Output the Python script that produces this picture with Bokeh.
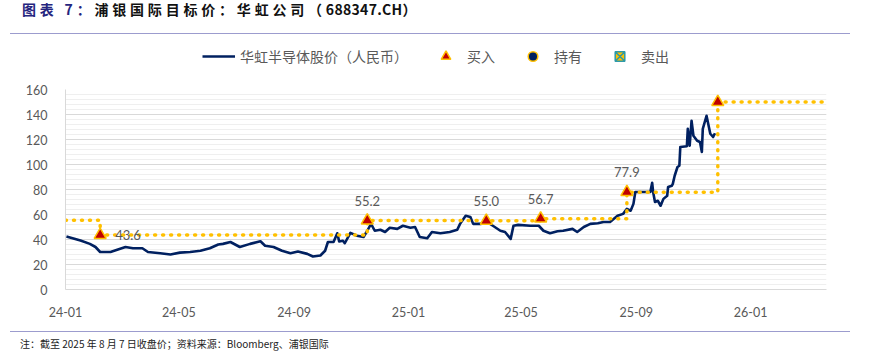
import pandas as pd
from bokeh.plotting import figure
from bokeh.models import (ColumnDataSource, Range1d, FixedTicker, SingleIntervalTicker,
                          DatetimeTickFormatter, Legend, LegendItem, Div)
from bokeh.layouts import column
from bokeh.embed import file_html
from bokeh.resources import INLINE
from bokeh.core.properties import value

# ---------------- data ----------------
title_prefix = "图表 7："
title_main = "浦银国际目标价：华虹公司（"
title_code = "688347.CH"
title_end = "）"
footnote = "注：截至 2025 年 8 月 7 日收盘价；资料来源：Bloomberg、浦银国际"
series_name = "华虹半导体股价（人民币）"
buy_name, hold_name, sell_name = "买入", "持有", "卖出"

price_dates = [
    "2024-01-02", "2024-01-17", "2024-01-27", "2024-02-02", "2024-02-07", "2024-02-18",
    "2024-02-26", "2024-03-05", "2024-03-13", "2024-03-23", "2024-03-29", "2024-04-11",
    "2024-04-22", "2024-05-02", "2024-05-13", "2024-05-24", "2024-06-03", "2024-06-12",
    "2024-06-17", "2024-06-25", "2024-07-05", "2024-07-16", "2024-07-27", "2024-08-01",
    "2024-08-10", "2024-08-19", "2024-08-28", "2024-09-05", "2024-09-15", "2024-09-21",
    "2024-09-29", "2024-10-04", "2024-10-07", "2024-10-13", "2024-10-17", "2024-10-19",
    "2024-10-23", "2024-10-25", "2024-10-31", "2024-11-07", "2024-11-14", "2024-11-18",
    "2024-11-22", "2024-11-26", "2024-12-02", "2024-12-07", "2024-12-12", "2024-12-20",
    "2024-12-26", "2025-01-03", "2025-01-08", "2025-01-13", "2025-01-21", "2025-01-26",
    "2025-02-04", "2025-02-14", "2025-02-22", "2025-02-25", "2025-03-03", "2025-03-08",
    "2025-03-11", "2025-03-19", "2025-03-26", "2025-04-01", "2025-04-09", "2025-04-14",
    "2025-04-20", "2025-04-23", "2025-04-28", "2025-05-11", "2025-05-20", "2025-05-25",
    "2025-06-01", "2025-06-09", "2025-06-15", "2025-06-25", "2025-06-30", "2025-07-07",
    "2025-07-14", "2025-07-22", "2025-07-28", "2025-08-04", "2025-08-12", "2025-08-18",
    "2025-08-22", "2025-08-26", "2025-08-29", "2025-08-31", "2025-09-09", "2025-09-16",
    "2025-09-18", "2025-09-19", "2025-09-21", "2025-09-24", "2025-09-27", "2025-09-30",
    "2025-10-04", "2025-10-05", "2025-10-09", "2025-10-10", "2025-10-12", "2025-10-15",
    "2025-10-17", "2025-10-18", "2025-10-25", "2025-10-26", "2025-10-28", "2025-10-30",
    "2025-11-01", "2025-11-05", "2025-11-08", "2025-11-10", "2025-11-11", "2025-11-15",
    "2025-11-19", "2025-11-22", "2025-11-24",
]
price_values = [
    42.4, 39.2, 36.5, 34.0, 30.0, 30.0,
    32.0, 34.0, 33.0, 33.0, 30.0, 29.0,
    28.0, 29.5, 30.0, 31.0, 33.0, 36.0,
    36.5, 38.0, 34.0, 36.5, 38.6, 35.0,
    34.0, 31.0, 29.0, 30.4, 28.5, 26.4,
    27.2, 31.0, 38.0, 38.0, 45.0, 38.4,
    39.0, 37.0, 45.3, 43.0, 42.0, 47.0,
    52.5, 47.0, 47.8, 46.0, 49.4, 48.5,
    51.0, 49.4, 50.0, 42.0, 41.0, 46.0,
    45.0, 46.0, 47.8, 52.5, 59.0, 58.0,
    52.5, 52.5, 53.8, 51.0, 47.0, 46.0,
    40.5, 51.0, 51.7, 51.0, 51.0, 47.0,
    45.0, 46.6, 47.0, 48.5, 46.0, 50.0,
    52.5, 53.0, 54.0, 54.0, 59.0, 60.5,
    64.5, 63.0, 68.5, 78.0, 78.0, 78.0,
    85.3, 78.0, 70.0, 71.0, 67.0, 72.5,
    75.0, 82.0, 83.0, 84.5, 91.0, 98.0,
    99.0, 114.0, 114.6, 128.5, 115.0, 135.0,
    123.0, 119.0, 118.0, 110.0, 128.5, 139.0,
    124.6, 122.0, 125.0,
]

prior_target = 55.5
target_dates = ["2024-02-07", "2024-11-18", "2025-03-25", "2025-05-22", "2025-08-22", "2025-11-27"]
target_values = [43.6, 55.2, 55.0, 56.7, 77.9, 150.0]
hold_dates, hold_values = [], []
sell_dates, sell_values = [], []

axis_start = "2024-01-01"
axis_end = "2026-03-23"
x_tick_dates = ["2024-01-01", "2024-05-01", "2024-09-01", "2025-01-01",
                "2025-05-01", "2025-09-01", "2026-01-01"]
y_min, y_max, y_step = 0, 160, 20

# ---------------- styles ----------------
NAVY = "#002060"
GOLD = "#FFC000"
RED = "#C00000"
GREY = "#595959"
TEAL = "#2E9AA8"
RULE = "#9C9CCE"
NUM_FONT = "Lato"
CJK_FONT = "Noto Sans CJK SC"
W = 860

LINE_STYLE = dict(line_color=NAVY, line_width=2.6)
BUY_STYLE = dict(marker="triangle", fill_color=RED, line_color=GOLD, line_width=1.5)
HOLD_STYLE = dict(marker="circle", fill_color=NAVY, line_color=GOLD, line_width=1.5)
SELL_STYLE = dict(marker="square_x", fill_color=GOLD, line_color=TEAL, line_width=1.5)

# ---------------- main figure ----------------
p = figure(width=W, height=257, x_axis_type="datetime",
           x_range=Range1d(pd.Timestamp(axis_start), pd.Timestamp(axis_end)),
           y_range=Range1d(y_min, y_max),
           output_backend="svg", toolbar_location=None,
           min_border_left=65, min_border_right=W - 65 - 761,
           min_border_top=21, min_border_bottom=36)
p.outline_line_color = None
p.background_fill_color = "white"
p.border_fill_color = "white"

yt = SingleIntervalTicker(interval=y_step, num_minor_ticks=5)
p.yaxis.ticker = yt
p.ygrid.ticker = yt
p.ygrid.grid_line_color = "#D9D9D9"
p.ygrid.minor_grid_line_color = "#EFEFEF"
p.xgrid.grid_line_color = None

p.xaxis.ticker = FixedTicker(ticks=list(pd.to_datetime(x_tick_dates).astype("int64") // 10**6))
fmt = "%y-%m"
p.xaxis.formatter = DatetimeTickFormatter(microseconds=fmt, milliseconds=fmt, seconds=fmt,
                                          minsec=fmt, minutes=fmt, hourmin=fmt, hours=fmt,
                                          days=fmt, months=fmt, years=fmt)
for ax in (p.xaxis, p.yaxis):
    ax.axis_line_color = "#D9D9D9"
    ax.major_tick_line_color = None
    ax.minor_tick_line_color = None
    ax.major_label_text_color = GREY
    ax.major_label_text_font = NUM_FONT
    ax.major_label_text_font_size = "12.5px"
p.xaxis.major_label_standoff = 11
p.yaxis.major_label_standoff = 12

price_src = ColumnDataSource(data=dict(x=pd.to_datetime(price_dates), y=price_values))
p.line("x", "y", source=price_src, line_join="round", **LINE_STYLE)

step_x = pd.to_datetime([axis_start] + target_dates + [axis_end])
step_y = [prior_target] + target_values + [target_values[-1]]
p.step(x=step_x, y=step_y, mode="after", line_color=GOLD, line_width=3.5,
       line_dash="1 7", line_cap="round")

n = len(target_values)
tgt_src = ColumnDataSource(data=dict(
    x=pd.to_datetime(target_dates), y=target_values,
    label=[f"{v:.1f}" for v in target_values],
    dx=[15] + [0] * (n - 1), dy=[0] + [-20] * (n - 1),
    align=["left"] + ["center"] * (n - 1)))
p.scatter("x", "y", source=tgt_src, size=12, **BUY_STYLE)
p.text("x", "y", text="label", source=tgt_src, x_offset="dx", y_offset="dy",
       text_align="align", text_baseline="middle", text_color=GREY,
       text_font=value(NUM_FONT), text_font_size="13px")

hold_src = ColumnDataSource(data=dict(x=pd.to_datetime(hold_dates), y=hold_values))
p.scatter("x", "y", source=hold_src, size=10, **HOLD_STYLE)
sell_src = ColumnDataSource(data=dict(x=pd.to_datetime(sell_dates), y=sell_values))
p.scatter("x", "y", source=sell_src, size=10, **SELL_STYLE)

# ---------------- legend strip ----------------
lg = figure(width=W, height=34, x_range=Range1d(0, 1), y_range=Range1d(0, 1),
            x_axis_location=None, y_axis_location=None,
            output_backend="svg", toolbar_location=None,
            min_border_left=65, min_border_right=W - 65 - 761,
            min_border_top=0, min_border_bottom=0)
lg.outline_line_color = None
lg.grid.grid_line_color = None
swatch = ColumnDataSource(data=dict(x=[float("nan")], y=[float("nan")]))  # legend swatches only
l_line = lg.line("x", "y", source=swatch, **LINE_STYLE)
l_buy = lg.scatter("x", "y", source=swatch, **BUY_STYLE)
l_hold = lg.scatter("x", "y", source=swatch, **HOLD_STYLE)
l_sell = lg.scatter("x", "y", source=swatch, **SELL_STYLE)
legend = Legend(items=[LegendItem(label=series_name, renderers=[l_line]),
                       LegendItem(label=buy_name, renderers=[l_buy]),
                       LegendItem(label=hold_name, renderers=[l_hold]),
                       LegendItem(label=sell_name, renderers=[l_sell])],
                orientation="horizontal", location=(137, 0),
                padding=0, margin=0, spacing=21, label_standoff=5,
                glyph_width=33, glyph_height=24, label_height=24,
                border_line_color=None, background_fill_alpha=0,
                label_text_font=CJK_FONT, label_text_font_size="14px",
                label_text_color=GREY, label_text_baseline="middle")
lg.add_layout(legend, "center")

# ---------------- title / footnote ----------------
title_html = (
    f'<div style="position:relative;box-sizing:border-box;width:840px;height:34px;'
    f'margin-left:10px;border-bottom:1px solid {RULE};">'
    f'<span style="position:absolute;left:12px;top:2px;white-space:nowrap;'
    f"font-family:'{CJK_FONT}';font-weight:bold;font-size:14px;line-height:14px;"
    f'letter-spacing:3.8px;color:#111111;">'
    f'<span style="color:#25257E">{title_prefix}</span>{title_main}'
    f'<span style="letter-spacing:0.3px">{title_code}</span>{title_end}</span></div>'
)
title_div = Div(text=title_html, width=W, height=34, margin=0)

foot_html = (
    f'<div style="box-sizing:border-box;width:840px;margin-left:10px;margin-top:6px;'
    f'border-top:1px solid {RULE};padding-top:6px;padding-left:10px;'
    f"font-family:'{CJK_FONT}';font-size:10px;line-height:12px;color:#222222;"
    f'white-space:nowrap;">{footnote}</div>'
)
foot_div = Div(text=foot_html, width=W, height=32, margin=0)

layout = column(title_div, lg, p, foot_div, spacing=0)

with open("out.html", "w") as f:
    f.write(file_html(layout, INLINE))
